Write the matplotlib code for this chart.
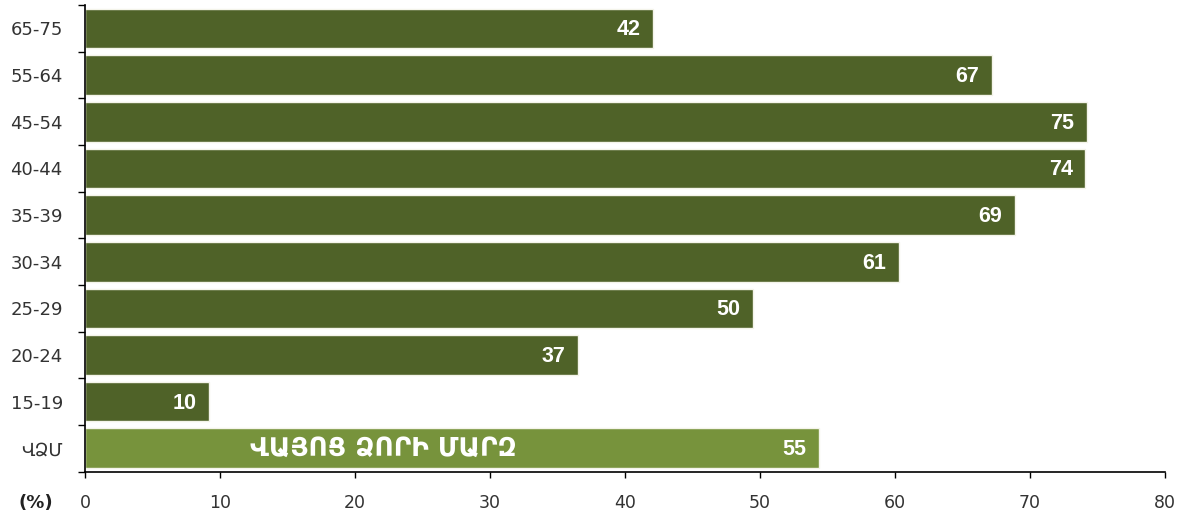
import matplotlib.pyplot as plt
import numpy as np

plt.rcParams['font.family'] = ['DejaVu Sans']

# Age groups (top to bottom) and the region total at the bottom
categories = ['65-75', '55-64', '45-54', '40-44', '35-39', '30-34', '25-29', '20-24', '15-19', 'ՎՁՄ']
values = [42.1, 67.2, 74.2, 74.1, 68.9, 60.3, 49.5, 36.5, 9.2, 54.4]
value_labels = ['42', '67', '75', '74', '69', '61', '50', '37', '10', '55']
region_name = 'ՎԱՅՈՑ ՁՈՐԻ ՄԱՐԶ'
xticks = [0, 10, 20, 30, 40, 50, 60, 70, 80]

dark_green = '#4f6228'
light_green = '#77933c'
colors = [dark_green] * 9 + [light_green]

fig = plt.figure(figsize=(11.84, 5.16), dpi=100)
ax = fig.add_axes([0.0718, 0.086, 0.912, 0.904])

y = np.arange(len(categories))[::-1]
bars = ax.barh(y, values, height=0.85, color=colors, edgecolor='#f4f4ea', linewidth=1)

for b, lab in zip(bars, value_labels):
    ax.annotate(lab, (b.get_width(), b.get_y() + b.get_height() / 2),
                xytext=(-9, -1), textcoords='offset points',
                ha='right', va='center', color='white', fontsize=15.5, fontweight='bold',
                family='Liberation Sans')

# region name written inside the total bar
ax.text(22.1, y[-1], region_name, ha='center', va='center', color='white',
        fontsize=19, fontweight='bold')

ax.set_xlim(0, 80)
ax.set_ylim(-0.5, len(categories) - 0.5)
ax.set_xticks(xticks)
ax.set_xticklabels([str(t) for t in xticks])
ax.set_yticks(y)
ax.set_yticklabels(categories)
ax.set_yticks(np.arange(-0.5, len(categories)), minor=True)

ax.tick_params(axis='y', which='major', length=0, pad=16, labelsize=13, labelcolor='#333333')
ax.tick_params(axis='y', which='minor', length=5, width=1, direction='out')
ax.tick_params(axis='x', which='major', length=4, width=1, direction='out', pad=12,
               labelsize=12.5, labelcolor='#333333')

for s in ['top', 'right']:
    ax.spines[s].set_visible(False)
for s in ['left', 'bottom']:
    ax.spines[s].set_linewidth(1.2)

fig.text(0.030, 0.025, '(%)', fontsize=13, fontweight='bold', color='#222222', va='center', ha='center')

fig.savefig('out.png', dpi=100, facecolor='white')
